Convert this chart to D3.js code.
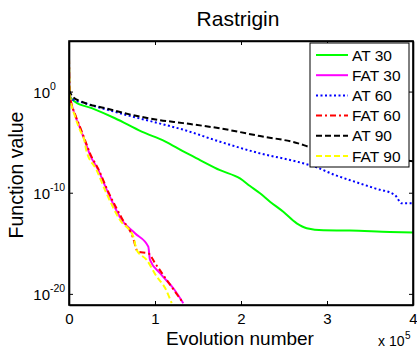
<!DOCTYPE html>
<html>
<head>
<meta charset="utf-8">
<script src="https://cdn.jsdelivr.net/npm/d3@7"></script>
<style>
  body { margin: 0; background: #fff; }
  svg { display: block; font-family: "Liberation Sans", Arial, sans-serif; }
</style>
</head>
<body>
<svg id="chart" width="417" height="350"></svg>
<script>
// evolutions (x) and function values (y)
const at30X = [0, 1000, 7000, 26400, 53500, 84500, 111600, 132900, 152300, 175600, 198800, 210500, 222100, 233700, 249200, 264800, 276400, 295700, 326700, 373300, 400000];
const at30Y = [1.0, 3.3e-1, 1.0e-1, 2.3e-2, 2.3e-3, 1.1e-4, 1.2e-5, 1.2e-6, 1.7e-7, 1.7e-8, 2.6e-9, 4.6e-10, 8.7e-11, 1.3e-11, 1.3e-12, 9.5e-14, 3.1e-14, 1.9e-14, 1.8e-14, 1.3e-14, 1.2e-14];

const fat30X = [0, 1000, 7000, 12800, 18600, 24400, 34100, 45700, 61300, 76700, 92200, 94200, 105800, 121300, 132900];
const fat30Y = [1.0e1, 4.7e-1, 5.0e-3, 2.5e-4, 1.2e-5, 5.6e-7, 1.7e-8, 8.7e-11, 2.0e-13, 9.8e-15, 4.7e-16, 2.3e-17, 1.1e-18, 3.6e-20, 1.2e-21];

const at60X = [0, 2000, 18600, 45700, 72900, 103800, 132900, 175600, 222100, 266600, 286000, 309300, 332600, 355800, 379000, 387000, 400000];
const at60Y = [1.0, 2.2e-1, 7.1e-2, 1.5e-2, 3.5e-3, 7.6e-4, 1.7e-4, 1.1e-5, 7.8e-7, 1.1e-7, 3.7e-8, 5.6e-9, 1.2e-9, 2.7e-10, 5.9e-11, 8.9e-12, 8.9e-12];

const fat60X = [0, 1000, 7000, 12800, 18600, 24400, 34100, 45700, 61300, 74000, 80000, 92200, 100000, 113600, 132900];
const fat60Y = [2.0e3, 4.4e-1, 5.9e-3, 3.2e-4, 1.6e-5, 7.9e-7, 2.2e-8, 1.2e-10, 3.2e-13, 4.6e-15, 1.5e-16, 1.0e-16, 1.1e-17, 2.4e-19, 1.2e-21];

const at90X = [0, 1000, 3800, 14700, 41900, 72900, 103800, 132900, 175600, 222100, 266600, 280000, 330000, 400000];
const at90Y = [1.5, 1.0, 3.3e-1, 1.0e-1, 2.3e-2, 5.0e-3, 1.6e-3, 7.6e-4, 2.3e-4, 4.0e-5, 7.6e-6, 3.2e-6, 7.9e-7, 1.3e-7];

const fat90X = [0, 1000, 7000, 12800, 18600, 20000, 32000, 43600, 59300, 74800, 78700, 90300, 102000, 111600, 119400];
const fat90Y = [2.0e3, 4.4e-1, 3.7e-3, 1.5e-4, 8.1e-6, 1.7e-6, 1.8e-8, 8.7e-11, 2.0e-13, 4.6e-15, 2.2e-16, 2.3e-17, 5.1e-19, 4.0e-20, 1.2e-21];

const seriesNames = ['AT 30', 'FAT 30', 'AT 60', 'FAT 60', 'AT 90', 'FAT 90'];
const xTicks = [0, 100000, 200000, 300000, 400000];
const yTickExps = [0, -10, -20];

const series = [
  { name: seriesNames[0], xs: at30X, ys: at30Y, color: '#00ff00', dash: null },
  { name: seriesNames[1], xs: fat30X, ys: fat30Y, color: '#ff00ff', dash: null },
  { name: seriesNames[2], xs: at60X, ys: at60Y, color: '#0000ff', dash: '2,2.5' },
  { name: seriesNames[3], xs: fat60X, ys: fat60Y, color: '#ff0000', dash: '6,3,2,3' },
  { name: seriesNames[4], xs: at90X, ys: at90Y, color: '#000000', dash: '6,3' },
  { name: seriesNames[5], xs: fat90X, ys: fat90Y, color: '#ffff00', dash: '6,3' }
];

const plot = { left: 69, right: 413, top: 41, bottom: 305 };

const svg = d3.select('#chart');

const x = d3.scaleLinear().domain([0, 400000]).range([plot.left, plot.right]);
const y = d3.scaleLog().domain([Math.pow(10, -21.1), 1e5]).range([plot.bottom, plot.top]);

// clip for the curves
svg.append('clipPath').attr('id', 'clip')
  .append('rect')
  .attr('x', plot.left).attr('y', plot.top)
  .attr('width', plot.right - plot.left).attr('height', plot.bottom - plot.top);

const line = d3.line()
  .x(d => x(d[0]))
  .y(d => y(d[1]))
  .curve(d3.curveMonotoneX);

const curves = svg.append('g').attr('clip-path', 'url(#clip)');
series.forEach(s => {
  curves.append('path')
    .datum(s.xs.map((v, i) => [v, s.ys[i]]))
    .attr('fill', 'none')
    .attr('stroke', s.color)
    .attr('stroke-width', 2)
    .attr('stroke-dasharray', s.dash)
    .attr('d', line);
});

// axes, ticks pointing inward on all four sides
const yTickVals = yTickExps.map(e => Math.pow(10, e));

svg.append('g')
  .attr('transform', `translate(0,${plot.bottom})`)
  .call(d3.axisBottom(x).tickValues(xTicks).tickSize(-4).tickSizeOuter(0).tickPadding(8)
    .tickFormat(d => d / 100000))
  .call(g => g.selectAll('text').attr('font-size', 15).attr('fill', '#000'));

svg.append('g')
  .attr('transform', `translate(0,${plot.top})`)
  .call(d3.axisTop(x).tickValues(xTicks).tickSize(-4).tickSizeOuter(0).tickFormat(''));

const yAxisG = svg.append('g')
  .attr('transform', `translate(${plot.left},0)`)
  .call(d3.axisLeft(y).tickValues(yTickVals).tickSize(-4).tickSizeOuter(0).tickFormat(''));

svg.append('g')
  .attr('transform', `translate(${plot.right},0)`)
  .call(d3.axisRight(y).tickValues(yTickVals).tickSize(-4).tickSizeOuter(0).tickFormat(''));

// y tick labels as 10 with superscript exponent
yAxisG.selectAll('.tick').each(function(d, i) {
  d3.select(this).append('text')
    .attr('x', -19)
    .attr('y', 6)
    .attr('fill', '#000')
    .attr('font-size', 15)
    .attr('text-anchor', 'end')
    .text('10');
  d3.select(this).append('text')
    .attr('x', -19)
    .attr('y', -2)
    .attr('fill', '#000')
    .attr('font-size', 10.5)
    .attr('text-anchor', 'start')
    .text(yTickExps[i]);
});

svg.selectAll('.domain').attr('stroke', '#000').attr('stroke-width', 1.6);
svg.selectAll('.tick line').attr('stroke', '#000');

// box
svg.append('rect')
  .attr('x', plot.left).attr('y', plot.top)
  .attr('width', plot.right - plot.left).attr('height', plot.bottom - plot.top)
  .attr('fill', 'none').attr('stroke', '#000').attr('stroke-width', 1.6);

// title and labels
svg.append('text')
  .attr('x', 238).attr('y', 26)
  .attr('text-anchor', 'middle')
  .attr('font-size', 21)
  .text('Rastrigin');

svg.append('text')
  .attr('x', 240).attr('y', 345)
  .attr('text-anchor', 'middle')
  .attr('font-size', 19)
  .text('Evolution number');

svg.append('text')
  .attr('transform', 'translate(23,175) rotate(-90)')
  .attr('text-anchor', 'middle')
  .attr('font-size', 19.5)
  .text('Function value');

svg.append('text')
  .attr('x', 378).attr('y', 346)
  .attr('font-size', 14)
  .text('x 10');
svg.append('text')
  .attr('x', 405).attr('y', 339)
  .attr('font-size', 10)
  .text('5');

// legend
const legend = svg.append('g');
legend.append('rect')
  .attr('x', 310).attr('y', 43)
  .attr('width', 99).attr('height', 124)
  .attr('fill', '#fff').attr('stroke', '#000').attr('stroke-width', 1);

series.forEach((s, i) => {
  const ly = 55 + i * 20.2;
  legend.append('line')
    .attr('x1', 316).attr('x2', 348)
    .attr('y1', ly).attr('y2', ly)
    .attr('stroke', s.color)
    .attr('stroke-width', 2)
    .attr('stroke-dasharray', s.dash);
  legend.append('text')
    .attr('x', 352).attr('y', ly)
    .attr('dy', '0.36em')
    .attr('font-size', 15.5)
    .text(s.name);
});
</script>
</body>
</html>
